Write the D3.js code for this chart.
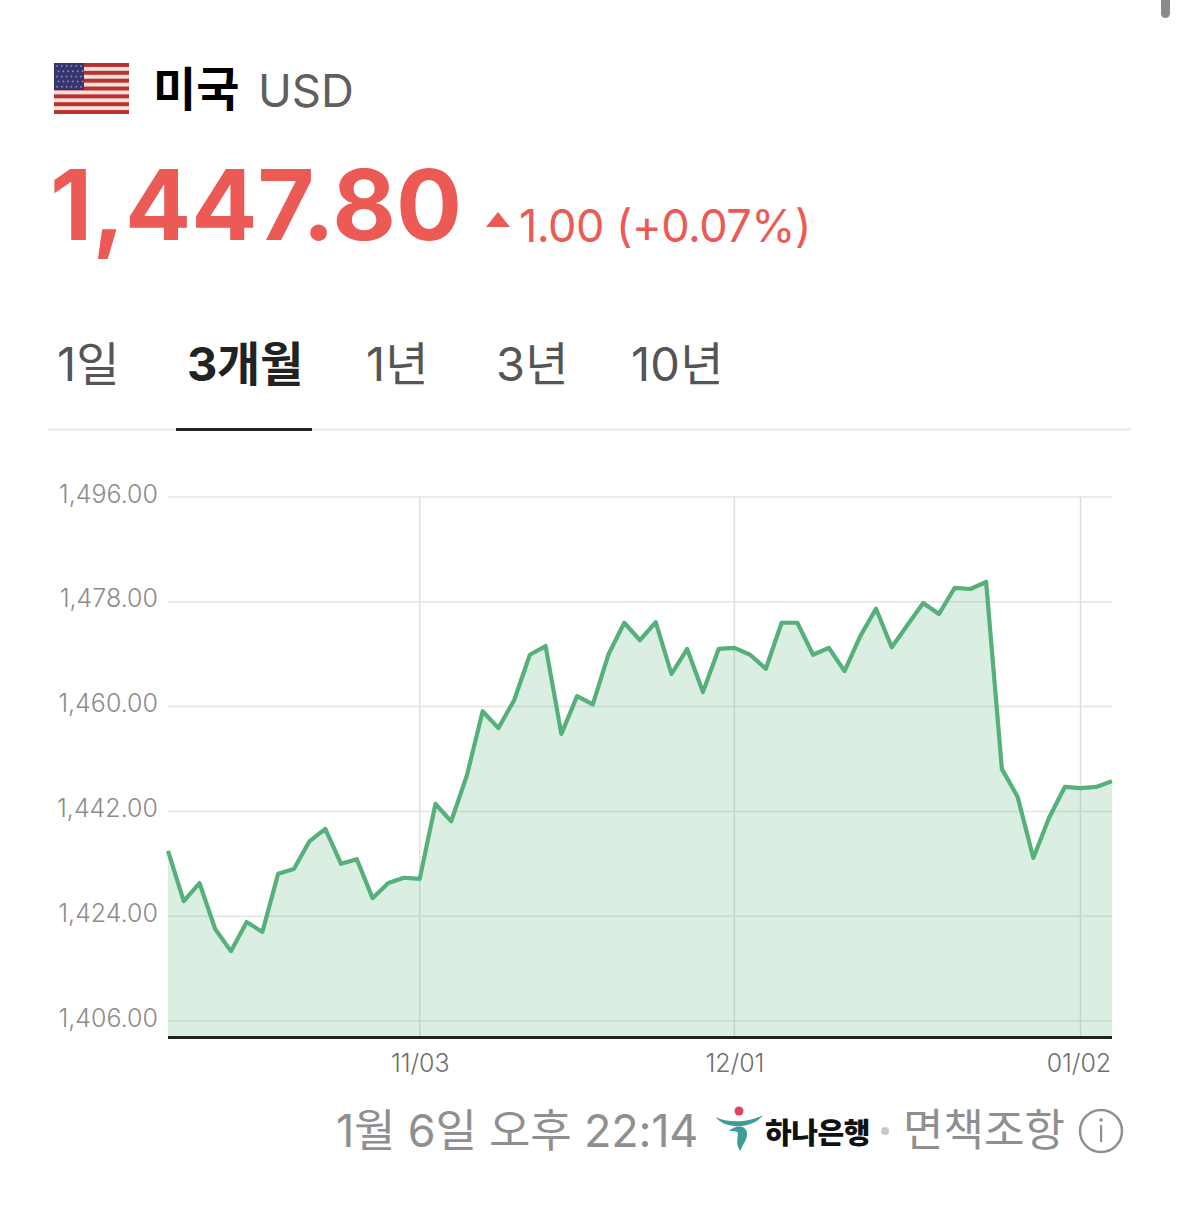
<!DOCTYPE html>
<html lang="ko"><head><meta charset="utf-8">
<script src="https://cdnjs.cloudflare.com/ajax/libs/d3/7.8.5/d3.min.js"></script>
<style>
html,body{margin:0;padding:0;background:#fff}
svg{display:block}
text{font-family:Inter,"Noto Sans CJK KR","Noto Sans",sans-serif}
</style></head><body>
<svg id="c" width="1179" height="1209"></svg>
<script>
const values=[1435.2,1426.6,1429.7,1421.8,1418.0,1423.0,1421.3,1431.3,1432.1,1436.9,1439.0,1433.0,1433.8,1427.1,1429.7,1430.6,1430.4,1443.3,1440.3,1448.2,1459.2,1456.3,1461.1,1468.9,1470.4,1455.3,1461.8,1460.4,1469.0,1474.4,1471.4,1474.5,1465.6,1469.9,1462.5,1469.9,1470.1,1468.9,1466.5,1474.4,1474.4,1468.9,1470.1,1466.1,1472.1,1476.8,1470.2,1474.0,1477.8,1475.9,1480.4,1480.2,1481.4,1449.3,1444.5,1434.0,1440.9,1446.2,1446.0,1446.2,1447.2];
const yTicks=[1406,1424,1442,1460,1478,1496];
const xTickIndex=[16,36,58];
const xTickLabels=["11/03","12/01","01/02"];
const tabs=["1일","3개월","1년","3년","10년"];

const svg=d3.select("#c");
const GREEN="#55b07a",RED="#eb5a55";

svg.append("rect").attr("x",1161).attr("y",-8).attr("width",9).attr("height",26).attr("rx",4.5).attr("fill","#8a8a8a");

// flag
const fl=svg.append("g").attr("transform","translate(54,63)");
const fw=75,fh=51;
fl.append("rect").attr("width",fw).attr("height",fh).attr("fill","#f3dfdb");
d3.range(7).forEach(i=>fl.append("rect").attr("y",i*fh/6.5).attr("width",fw).attr("height",fh/13).attr("fill","#b9302c"));
fl.append("rect").attr("width",30).attr("height",27).attr("fill","#36366f");
d3.range(5).forEach(r=>d3.range(6).forEach(c=>fl.append("circle").attr("cx",3+c*4.8+(r%2)*1.5).attr("cy",3+r*5.2).attr("r",1).attr("fill","#8585b8")));

// header
svg.append("text").attr("x",153).attr("y",106).attr("font-size",47).attr("font-weight",700).attr("fill","#000").text("미국");
svg.append("text").attr("x",258).attr("y",107).attr("font-size",45.5).attr("font-weight",400).attr("fill","#5f5f5f").text("USD");
svg.append("text").attr("x",50).attr("y",240).attr("font-size",98).attr("font-weight",700).attr("fill",RED).text("1,447.80");
svg.append("path").attr("d","M486 227L498 212L510 227Z").attr("fill",RED);
svg.append("text").attr("x",519).attr("y",242).attr("font-size",45).attr("font-weight",400).attr("fill",RED).attr("letter-spacing",-.5).text("1.00 (+0.07%)");

// tabs
const tabX=[57,187,366,496,631];
tabs.forEach((t,i)=>svg.append("text").attr("x",tabX[i]).attr("y",381).attr("font-size",47)
  .attr("font-weight",i==1?700:400).attr("fill",i==1?"#222":"#555").attr("letter-spacing",i==1?-.3:.2).text(t));
svg.append("rect").attr("x",48).attr("y",428).attr("width",1083).attr("height",3).attr("fill","#efefef");
svg.append("rect").attr("x",176).attr("y",428).attr("width",136).attr("height",3).attr("fill","#222");

// chart
const x=d3.scaleLinear().domain([0,values.length-1]).range([168,1112]);
const y=d3.scaleLinear().domain([1406,1496]).range([1021,497]);
const base=1037;

const yAxis=d3.axisLeft(y).tickValues(yTicks).tickSize(0).tickPadding(10).tickFormat(d3.format(",.2f"));
const yg=svg.append("g").attr("transform","translate(168,0)").call(yAxis);
yg.select(".domain").remove();
yg.selectAll("text").attr("font-size",25).attr("font-weight",300).attr("fill","#8c8c8c").attr("dy",5)
  .style("font-family","Inter,sans-serif");
svg.append("g").selectAll("line").data(yTicks).join("line")
  .attr("x1",168).attr("x2",1112).attr("y1",d=>y(d)).attr("y2",d=>y(d)).attr("stroke","#e4e4e4").attr("stroke-width",1.5);
svg.append("g").selectAll("line").data(xTickIndex).join("line")
  .attr("x1",d=>x(d)).attr("x2",d=>x(d)).attr("y1",497).attr("y2",base).attr("stroke","#dedede").attr("stroke-width",1.5);

svg.append("path").datum(values)
  .attr("d",d3.area().x((d,i)=>x(i)).y0(base).y1(d=>y(d)))
  .attr("fill","#55b07a").attr("fill-opacity",.22);
svg.append("path").datum(values)
  .attr("d",d3.line().x((d,i)=>x(i)).y(d=>y(d)))
  .attr("fill","none").attr("stroke",GREEN).attr("stroke-width",4.2).attr("stroke-linejoin","round");

svg.append("rect").attr("x",168).attr("y",base-1).attr("width",944).attr("height",3).attr("fill","#222");

const xAxis=d3.axisBottom(x).tickValues(xTickIndex).tickSize(0).tickPadding(17).tickFormat((d,i)=>xTickLabels[i]);
const xg=svg.append("g").attr("transform",`translate(0,${base})`).call(xAxis);
xg.select(".domain").remove();
xg.selectAll("text").attr("font-size",25).attr("font-weight",300).attr("fill","#6f6f6f").attr("letter-spacing",-.1).style("font-family","Inter,sans-serif");
xg.selectAll("text").filter((d,i)=>i==2).attr("text-anchor","end").attr("dx",30);

// footer
svg.append("text").attr("x",336).attr("y",1147).attr("font-size",45).attr("font-weight",400).attr("fill","#8f8f8f").attr("letter-spacing",-.2).text("1월 6일 오후 22:14");
const lg=svg.append("g");
lg.append("path").attr("d","M716 1117C728 1124 750 1122 763 1115C754 1129 724 1130 716 1117Z").attr("fill","#3d9c94");
lg.append("circle").attr("cx",739).attr("cy",1111).attr("r",4.5).attr("fill","#e4405f");
lg.append("path").attr("d","M729 1131C736 1124 747 1125 747 1134C747 1141 741 1146 741 1151C735 1146 738 1138 738 1133C737 1131 732 1131 729 1131Z").attr("fill","#3d9c94");
svg.append("text").attr("x",765).attr("y",1144).attr("font-size",29).attr("font-weight",900).attr("fill","#111").attr("letter-spacing",-.4).text("하나은행");
svg.append("circle").attr("cx",885).attr("cy",1131).attr("r",4).attr("fill","#c8c8c8");
svg.append("text").attr("x",903).attr("y",1146).attr("font-size",44).attr("font-weight",400).attr("fill","#8f8f8f").text("면책조항");
svg.append("circle").attr("cx",1101).attr("cy",1131).attr("r",21).attr("fill","none").attr("stroke","#8f8f8f").attr("stroke-width",2.5);
svg.append("circle").attr("cx",1101).attr("cy",1120).attr("r",1.8).attr("fill","#8f8f8f");
svg.append("rect").attr("x",1100).attr("y",1125).attr("width",2.2).attr("height",17).attr("fill","#8f8f8f");
</script></body></html>
